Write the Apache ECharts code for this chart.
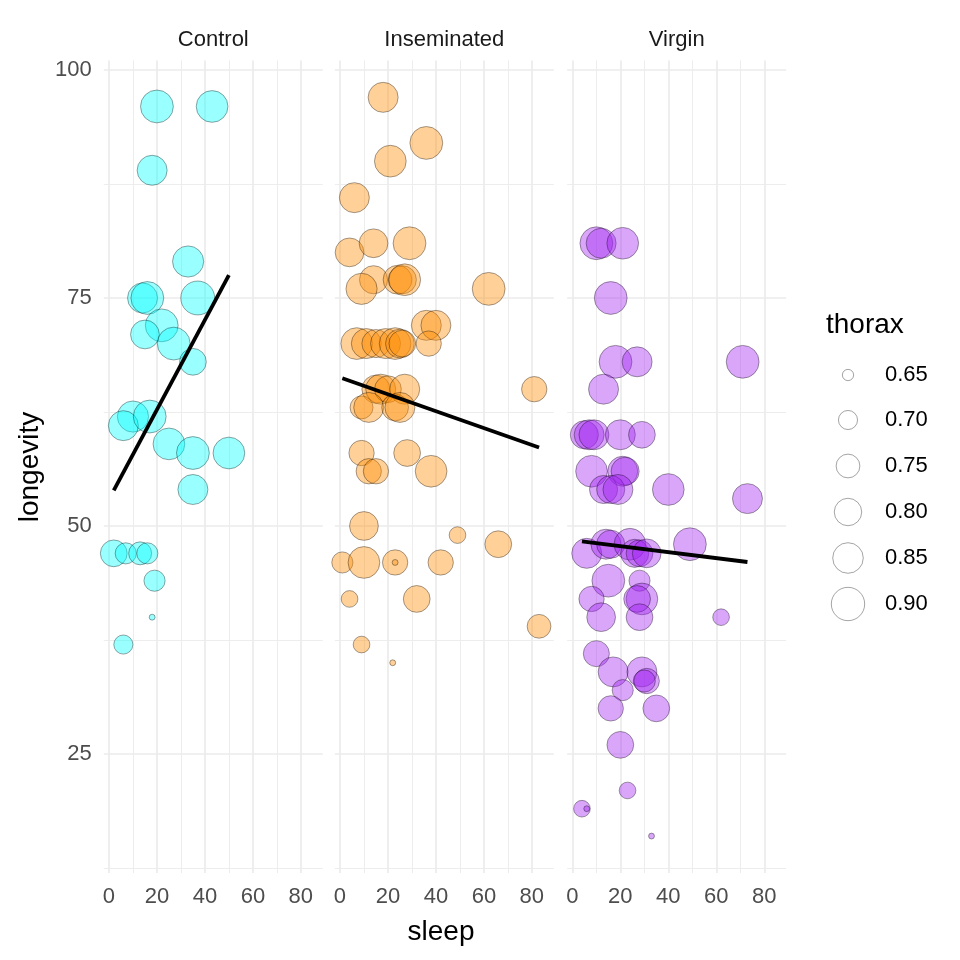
<!DOCTYPE html>
<html>
<head>
<meta charset="utf-8">
<script src="https://cdn.jsdelivr.net/npm/echarts@6/dist/echarts.min.js"></script>
<style>html,body{margin:0;padding:0;background:#fff;}#c{width:960px;height:960px;}</style>
</head>
<body>
<div id="c"></div>
<script>
// ---------- data ----------
const panels = ['Control', 'Inseminated', 'Virgin'];

const controlSleep     = [20, 43, 18, 33, 14, 16, 37, 22, 15, 27, 35, 10, 6, 17, 25, 35, 50, 35, 2, 7, 13, 16, 19, 18, 6];
const controlLongevity = [96, 96, 89, 79, 75, 75, 75, 72, 71, 70, 68, 62, 61, 62, 59, 58, 58, 54, 47, 47, 47, 47, 44, 40, 37];
const controlThorax    = [.89, .87, .84, .86, .84, .89, .91, .89, .82, .89, .79, .86, .84, .89, .87, .89, .87, .84, .79, .72, .74, .72, .72, .64, .70];

const insemSleep     = [18, 36, 21, 6, 4, 14, 29, 14, 9, 24, 26, 27, 62, 36, 40, 37,
                        7, 11, 15, 19, 23, 25, 26,
                        15, 17, 20, 27, 81,
                        9, 12, 23, 25,
                        9, 28, 38, 12, 15,
                        10, 49, 66,
                        1, 10, 23, 23, 42,
                        4, 32, 83, 9, 22];
const insemLongevity = [97, 92, 90, 86, 80, 81, 81, 77, 76, 77, 77, 77, 76, 72, 72, 70,
                        70, 70, 70, 70, 70, 70, 70,
                        65, 65, 65, 65, 65,
                        63, 63, 63, 63,
                        58, 58, 56, 56, 56,
                        50, 49, 48,
                        46, 46, 46, 46, 46,
                        42, 42, 39, 37, 35];
const insemThorax    = [.84, .89, .87, .84, .82, .82, .89, .81, .86, .82, .81, .87, .89, .84, .84, .77,
                        .87, .84, .81, .84, .87, .82, .79,
                        .81, .84, .79, .84, .77,
                        .74, .84, .79, .84,
                        .77, .79, .87, .77, .77,
                        .82, .68, .79,
                        .72, .87, .77, .64, .77,
                        .68, .79, .75, .68, .64];

const virginSleep     = [10, 12, 21, 16, 18, 27, 71, 13,
                         5, 7, 9, 20, 29,
                         8, 21, 22,
                         13, 16, 19, 40, 73,
                         6, 14, 16, 24, 26, 28, 31, 49,
                         15, 28, 8, 29, 27,
                         12, 28, 62, 10,
                         17, 29, 31, 30, 21,
                         16, 35, 20, 23, 4, 6, 33];
const virginLongevity = [81, 81, 81, 75, 68, 68, 68, 65,
                         60, 60, 60, 60, 60,
                         56, 56, 56,
                         54, 54, 54, 54, 53,
                         47, 48, 48, 48, 47, 47, 47, 48,
                         44, 44, 42, 42, 42,
                         40, 40, 40, 36,
                         34, 34, 33, 33, 32,
                         30, 30, 26, 21, 19, 19, 16];
const virginThorax    = [.89, .84, .87, .89, .89, .84, .89, .84,
                         .81, .84, .84, .84, .79,
                         .87, .84, .81,
                         .81, .81, .84, .87, .84,
                         .84, .84, .81, .87, .81, .79, .82, .89,
                         .89, .72, .77, .87, .79,
                         .82, .79, .68, .78,
                         .84, .84, .77, .73, .72,
                         .77, .79, .79, .68, .68, .64, .64];

// fitted lm lines (endpoints)
const fitControl     = [[2, 53.9], [50, 77.5]];
const fitInseminated = [[1, 66.2], [83, 58.6]];
const fitVirgin      = [[4, 48.3], [73, 46.05]];

const xTicks = [0, 20, 40, 60, 80];
const xMinor = [10, 30, 50, 70];
const yTicks = [25, 50, 75, 100];
const yMinor = [12.5, 37.5, 62.5, 87.5];
const legendBreaks = [0.65, 0.70, 0.75, 0.80, 0.85, 0.90];

// ---------- styling / layout ----------
const colors = ['rgba(0,255,255,0.4)', 'rgba(255,140,0,0.4)', 'rgba(160,32,240,0.4)'];
const TH_MIN = 0.64, TH_MAX = 0.94;
function sizeOf(t) {
  const r = Math.max(0, Math.min(1, (t - TH_MIN) / (TH_MAX - TH_MIN)));
  return 5.9 * (1 + 5 * Math.sqrt(r));
}
const FONT = '"Liberation Sans", Arial, sans-serif';
const gridLefts = [103.8, 334.8, 567.2];
const gridTop = 60.4, gridH = 812.6, gridW = 219;
const XMIN = -2.15, XMAX = 89.15, YMIN = 11.95, YMAX = 101.05;

const groups = [
  { s: controlSleep, l: controlLongevity, t: controlThorax, fit: fitControl },
  { s: insemSleep, l: insemLongevity, t: insemThorax, fit: fitInseminated },
  { s: virginSleep, l: virginLongevity, t: virginThorax, fit: fitVirgin }
];

const grids = [], xAxes = [], yAxes = [], series = [];
panels.forEach((p, i) => {
  grids.push({ left: gridLefts[i], top: gridTop, width: gridW, height: gridH, containLabel: false });
  xAxes.push({
    type: 'value', gridIndex: i, min: XMIN, max: XMAX,
    axisLine: { show: false }, axisTick: { show: false }, splitLine: { show: false },
    axisLabel: { customValues: xTicks, color: '#4D4D4D', fontSize: 22, fontFamily: FONT, margin: 13 }
  });
  yAxes.push({
    type: 'value', gridIndex: i, min: YMIN, max: YMAX,
    axisLine: { show: false }, axisTick: { show: false }, splitLine: { show: false },
    axisLabel: { show: i === 0, customValues: yTicks, color: '#4D4D4D', fontSize: 22, fontFamily: FONT, margin: 12 }
  });
  const gl = [];
  xTicks.forEach(v => gl.push({ xAxis: v, lineStyle: { color: '#EBEBEB', width: 1.7, type: 'solid' } }));
  xMinor.forEach(v => gl.push({ xAxis: v, lineStyle: { color: '#EBEBEB', width: 0.9, type: 'solid' } }));
  yTicks.forEach(v => gl.push({ yAxis: v, lineStyle: { color: '#EBEBEB', width: 1.7, type: 'solid' } }));
  yMinor.forEach(v => gl.push({ yAxis: v, lineStyle: { color: '#EBEBEB', width: 0.9, type: 'solid' } }));
  series.push({
    type: 'scatter', xAxisIndex: i, yAxisIndex: i, data: [], silent: true, z: 0,
    markLine: { silent: true, symbol: ['none', 'none'], label: { show: false }, z: 0, animation: false, data: gl }
  });
  const g = groups[i];
  series.push({
    type: 'scatter', xAxisIndex: i, yAxisIndex: i, z: 2,
    data: g.s.map((x, k) => [x, g.l[k], g.t[k]]),
    symbol: 'circle',
    symbolSize: v => sizeOf(v[2]),
    itemStyle: { color: colors[i], borderColor: 'rgba(0,0,0,0.45)', borderWidth: 0.8, opacity: 1 },
    emphasis: { disabled: true }
  });
  series.push({
    type: 'line', xAxisIndex: i, yAxisIndex: i, z: 3,
    data: g.fit, symbol: 'none',
    lineStyle: { color: '#000', width: 3.8 }
  });
});

const graphics = [];
panels.forEach((p, i) => {
  graphics.push({ type: 'text', x: gridLefts[i] + gridW / 2, y: 40,
    style: { text: p, font: '22px ' + FONT, fill: '#1A1A1A', textAlign: 'center', textVerticalAlign: 'middle' } });
});
graphics.push({ type: 'text', x: 441, y: 932,
  style: { text: 'sleep', font: '28px ' + FONT, fill: '#000', textAlign: 'center', textVerticalAlign: 'middle' } });
graphics.push({ type: 'text', x: 30, y: 467, rotation: Math.PI / 2,
  style: { text: 'longevity', font: '28px ' + FONT, fill: '#000', textAlign: 'center', textVerticalAlign: 'middle' } });
graphics.push({ type: 'text', x: 826, y: 325,
  style: { text: 'thorax', font: '28px ' + FONT, fill: '#000', textAlign: 'left', textVerticalAlign: 'middle' } });
const legY = [375, 420, 466, 512, 558, 604];
legendBreaks.forEach((b, k) => {
  graphics.push({ type: 'circle', shape: { cx: 848, cy: legY[k], r: sizeOf(b) / 2 },
    style: { fill: 'none', stroke: 'rgba(0,0,0,0.45)', lineWidth: 0.8 } });
  graphics.push({ type: 'text', x: 885, y: legY[k],
    style: { text: b.toFixed(2), font: '22px ' + FONT, fill: '#000', textAlign: 'left', textVerticalAlign: 'middle' } });
});

const chart = echarts.init(document.getElementById('c'), null, { renderer: 'canvas' });
chart.setOption({
  animation: false,
  backgroundColor: '#ffffff',
  grid: grids, xAxis: xAxes, yAxis: yAxes, series: series,
  graphic: graphics
});
</script>
</body>
</html>
